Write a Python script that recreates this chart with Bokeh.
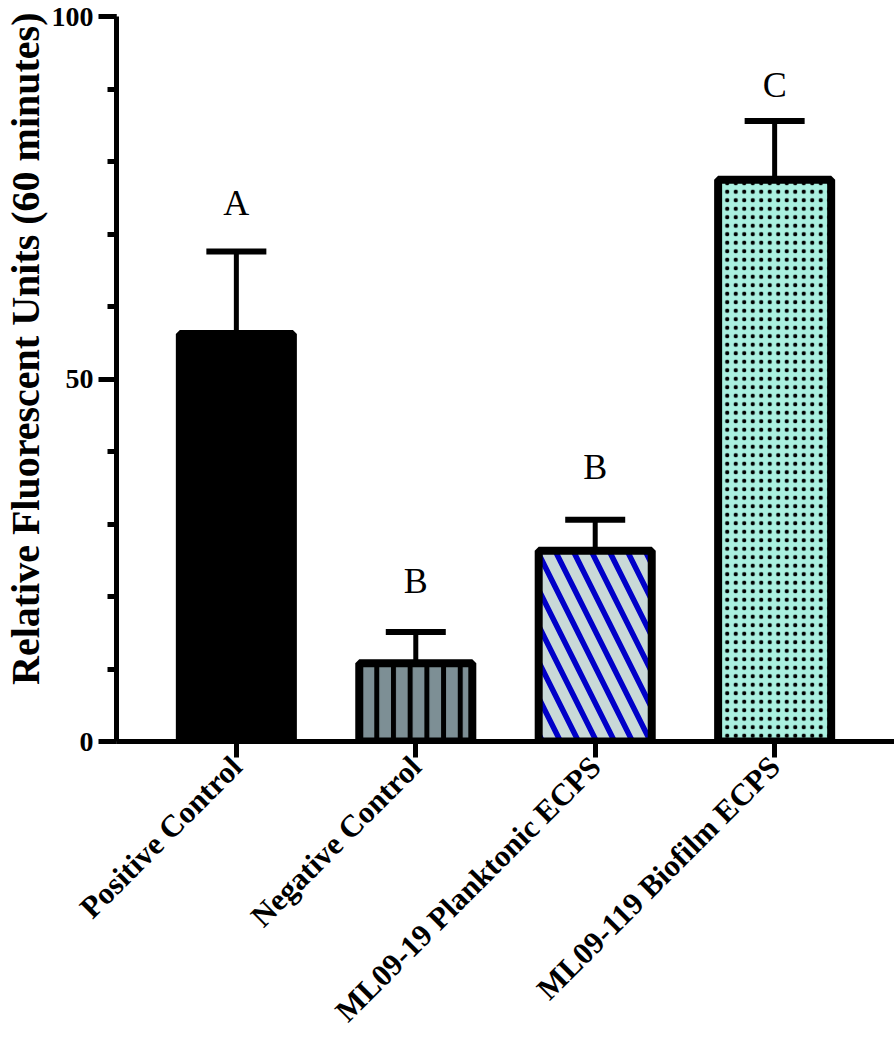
import math
from bokeh.plotting import figure
from bokeh.models import (ColumnDataSource, FactorRange, Range1d, Whisker, TeeHead,
                          SingleIntervalTicker, Title)
from bokeh.core.properties import value
from bokeh.embed import file_html
from bokeh.resources import INLINE

# ---- data ----
categories = ["Positive Control", "Negative Control",
              "ML09-19 Planktonic ECPS", "ML09-119 Biofilm ECPS"]
means = [56.2, 10.8, 26.3, 77.5]
sems = [11.4, 4.3, 4.3, 8.1]
letters = ["A", "B", "B", "C"]
y_label = "Relative Fluorescent Units (60 minutes)"

upper = [m + s for m, s in zip(means, sems)]
# gap (in data units) between the top of the error bar and the letter
letter_gap = [6.7, 7.1, 7.3, 4.9]
letter_y = [u + g for u, g in zip(upper, letter_gap)]

FONT = "Liberation Serif"

p = figure(x_range=FactorRange(factors=categories, range_padding=0.084),
           y_range=Range1d(0, 100),
           width=894, height=1050, output_backend="svg", toolbar_location=None,
           min_border_left=115, min_border_right=0, min_border_top=16,
           min_border_bottom=309)

styles = [
    dict(fill_color="black"),
    dict(fill_color="#7d8f95", hatch_pattern="|", hatch_color="black",
         hatch_scale=16.7, hatch_weight=5),
    dict(fill_color="#c9d9d8", hatch_pattern="\\", hatch_color="#0000c8",
         hatch_scale=36, hatch_weight=5.5),
    dict(fill_color="#aaf0e0", hatch_pattern=".", hatch_color="black",
         hatch_scale=8.5, hatch_weight=1),
]
for i, st in enumerate(styles):
    p.vbar(x=[categories[i]], top=[means[i]], width=0.63,
           line_color="black", line_width=8, **st)

src = ColumnDataSource(dict(cat=categories, lower=means, upper=upper))
w = Whisker(base="cat", lower="lower", upper="upper", source=src,
            dimension="height", line_width=5, line_color="black",
            upper_head=TeeHead(size=60, line_width=6, line_color="black"),
            lower_head=None)
p.add_layout(w)

p.text(x=categories, y=letter_y, text=letters, text_font=value(FONT),
       text_font_size="36px", text_align="center", text_baseline="middle",
       text_color="black")

# y-axis title as a side title, aligned to the top of the plot like the reference
p.add_layout(Title(text=y_label, align="right", offset=-4, standoff=1,
                   text_font=FONT, text_font_size="40px",
                   text_font_style="bold", text_color="black"), "left")

p.xgrid.visible = False
p.ygrid.visible = False
p.outline_line_color = None

ya = p.yaxis[0]
ya.ticker = SingleIntervalTicker(interval=50, num_minor_ticks=5)
ya.axis_line_width = 5
ya.major_tick_line_width = 5
ya.minor_tick_line_width = 5
ya.major_tick_out = 18
ya.major_tick_in = 0
ya.minor_tick_out = 9
ya.minor_tick_in = 0
ya.major_label_text_font = FONT
ya.major_label_text_font_size = "28px"
ya.major_label_text_font_style = "bold"
ya.major_label_text_color = "black"
ya.major_label_standoff = 5

xa = p.xaxis[0]
xa.axis_line_width = 5
xa.major_tick_line_width = 5
xa.major_tick_out = 16
xa.major_tick_in = 0
xa.major_label_orientation = math.pi / 4
xa.major_label_text_font = FONT
xa.major_label_text_font_size = "31px"
xa.major_label_text_font_style = "bold"
xa.major_label_text_color = "black"
xa.major_label_standoff = 4

open("out.html", "w").write(file_html(p, INLINE))
